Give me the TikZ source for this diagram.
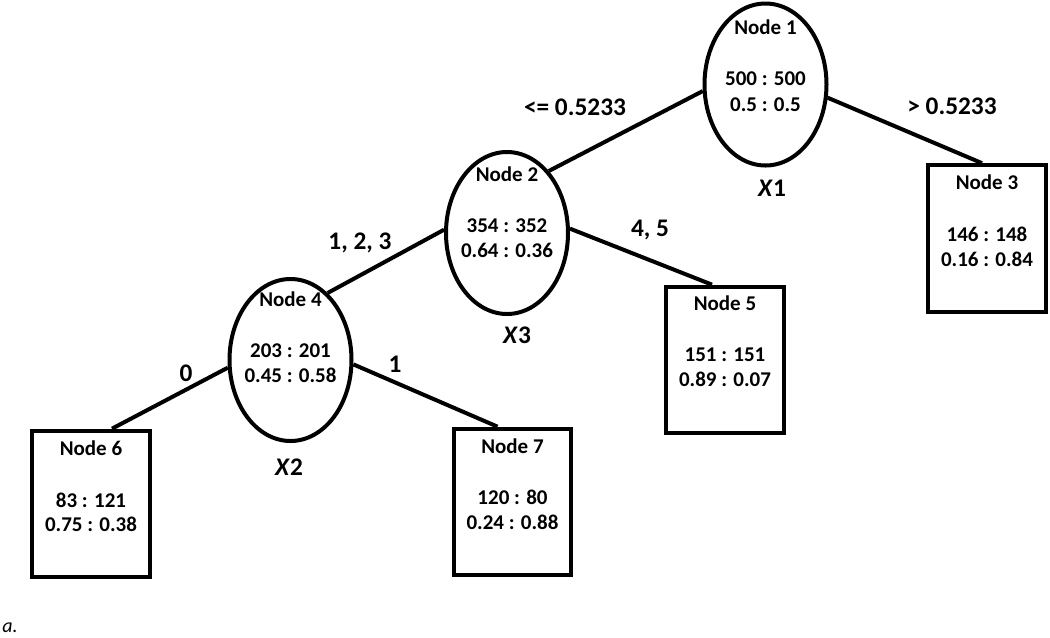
\documentclass[tikz,border=0pt]{standalone}
\usepackage{fontspec}
\setmainfont{Carlito}
\usetikzlibrary{shapes.geometric,calc}
\tikzset{
  px/.style={x=0.75pt,y=-0.75pt},
  ell/.style={ellipse,draw,line width=3pt,inner sep=0pt,minimum width=91.5pt,minimum height=121.5pt},
  box/.style={rectangle,draw,line width=3pt,inner sep=0pt,minimum width=88pt,minimum height=110pt},
  txt/.style={inner sep=0pt,font=\fontsize{15.75pt}{18pt}\selectfont\bfseries,text height=0.63em,text depth=0pt},
  lbl/.style={inner sep=0pt,font=\fontsize{19pt}{22pt}\selectfont\bfseries,text height=0.63em,text depth=0pt},
  edge/.style={line width=3pt}
}
\begin{document}
\begin{tikzpicture}[px]
\useasboundingbox (0,0) rectangle (1050,637);
% shapes
\node[ell] (n1) at (765.5,84.5) {};
\node[ell] (n2) at (507,233) {};
\node[ell] (n4) at (290.5,360) {};
\node[box] (n3) at (987,238.5) {};
\node[box] (n5) at (725,360) {};
\node[box] (n6) at (91,504) {};
\node[box] (n7) at (512.5,502) {};
% texts node 1
\node[txt] (t1a) at (765.5,30) {Node 1};
\node[txt] (t1b) at (765.5,81) {500 : 500};
\node[txt] (t1c) at (765.5,107) {0.5 : 0.5};
% node 2
\node[txt] (t2a) at (507,177) {Node 2};
\node[txt] (t2b) at (507,228) {354 : 352};
\node[txt] (t2c) at (507,253) {0.64 : 0.36};
% node 4
\node[txt] (t4a) at (290.5,302) {Node 4};
\node[txt] (t4b) at (290.5,353) {203 : 201};
\node[txt] (t4c) at (290.5,378) {0.45 : 0.58};
% node 3
\node[txt] (t3a) at (987,185) {Node 3};
\node[txt] (t3b) at (987,237) {146 : 148};
\node[txt] (t3c) at (987,262) {0.16 : 0.84};
% node 5
\node[txt] (t5a) at (725,306) {Node 5};
\node[txt] (t5b) at (725,357) {151 : 151};
\node[txt] (t5c) at (725,382) {0.89 : 0.07};
% node 6
\node[txt] (t6a) at (91,451) {Node 6};
\node[txt] (t6b) at (91,503) {83 : 121};
\node[txt] (t6c) at (91,527) {0.75 : 0.38};
% node 7
\node[txt] (t7a) at (512.5,449) {Node 7};
\node[txt] (t7b) at (512.5,500) {120 : 80};
\node[txt] (t7c) at (512.5,525) {0.24 : 0.88};
% connectors
\draw[edge] (n1.186.5) -- (n2.56);
\draw[edge] (n1.348) -- ($(n3.north)+(-5,0)$);
\draw[edge] (n2.177) -- (n4.61);
\draw[edge] (n2.4) -- ($(n5.north)+(-13,0)$);
\draw[edge] (n4.187) -- ($(n6.north)+(21,0)$);
\draw[edge] (n4.356) -- ($(n7.north)+(-15,0)$);
% labels
\node[lbl] (l12) at (575,111) {<= 0.5233};
\node[lbl] (l13) at (952,110) {> 0.5233};
\node[lbl] (l24) at (360,245) {1, 2, 3};
\node[lbl] (l25) at (650,232) {4, 5};
\node[lbl] (l46) at (186,377) {0};
\node[lbl] (l47) at (395,368) {1};
\node[lbl] (x1) at (772,192) {\textit{X}1};
\node[lbl] (x3) at (517,339) {\textit{X}3};
\node[lbl] (x2) at (289,471) {\textit{X}2};
\node[inner sep=0pt,font=\fontsize{15pt}{17pt}\selectfont\itshape,anchor=base west] (cap) at (2,632) {a.};
\end{tikzpicture}
\end{document}
